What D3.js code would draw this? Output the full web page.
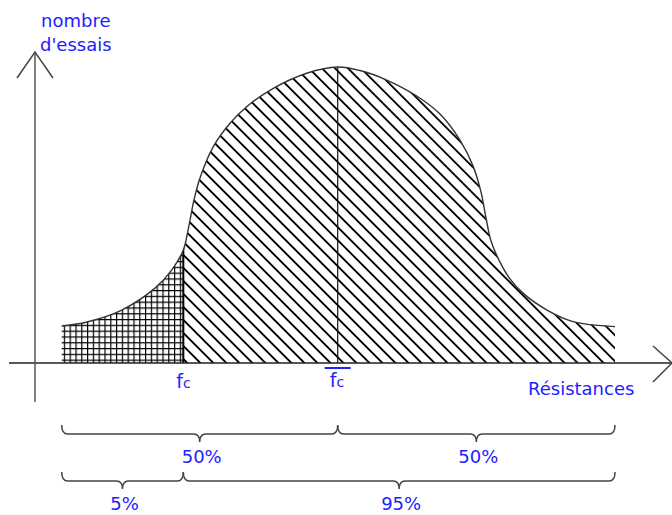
<!DOCTYPE html>
<html>
<head>
<meta charset="utf-8">
<script src="https://cdn.jsdelivr.net/npm/d3@7"></script>
<style>
  body { margin: 0; background: #fff; }
  text { font-family: "Comic Sans MS", "DejaVu Sans", sans-serif; fill: #2121ff; }
</style>
</head>
<body>
<div id="chart"></div>
<script>
// resistance (arbitrary units) and number of trials (relative, peak = 100)
const resistance = [4.45, 8.83, 14.45, 20.0, 22.78, 24.72, 25.55, 26.5, 27.5, 29.72, 32.5, 35.28, 39.72, 45.28, 50.45,
                    54.17, 58.62, 63.62, 67.5, 70.83, 73.0, 74.33, 75.17, 76.0, 77.5, 79.17, 81.33, 85.33, 89.67, 96.67];
const counts = [12.5, 13.95, 17.9, 25.3, 31.4, 38.2, 45.3, 55.1, 62.5, 73.1, 81.0, 86.6, 92.8, 97.9, 100,
                98.8, 95.6, 90.2, 84.1, 75.3, 66.6, 57.8, 49.0, 41.2, 34.1, 28.4, 23.6, 17.9, 14.0, 12.3];

const fc = 24.72;      // characteristic resistance (5 % fractile)
const fcMean = 50.45;  // mean resistance

const braceFrom = [4.45, 50.45, 4.45, 24.72];
const braceTo = [50.45, 96.67, 24.72, 96.67];
const braceRow = [0, 0, 1, 1];
const braceLabels = ["50%", "50%", "5%", "95%"];

const width = 672;
const height = 515;

const svg = d3.select("#chart")
    .append("svg")
    .attr("width", width)
    .attr("height", height);

const xScale = d3.scaleLinear().domain([0, 100]).range([35, 635]);
const yScale = d3.scaleLinear().domain([0, 100]).range([363, 67]);

const defs = svg.append("defs");

// diagonal hatching
const hatch = defs.append("pattern")
    .attr("id", "hatch")
    .attr("patternUnits", "userSpaceOnUse")
    .attr("width", 9.2)
    .attr("height", 9.2)
    .attr("patternTransform", "rotate(-45)");
hatch.append("line")
    .attr("x1", 4.6).attr("y1", -1)
    .attr("x2", 4.6).attr("y2", 10.2)
    .attr("stroke", "#000")
    .attr("stroke-width", 1.8);

// square grid
const grid = defs.append("pattern")
    .attr("id", "grid")
    .attr("patternUnits", "userSpaceOnUse")
    .attr("width", 5.8)
    .attr("height", 5.8);
grid.append("path")
    .attr("d", "M0,0.6 H5.8 M0.6,0 V5.8")
    .attr("stroke", "#000")
    .attr("stroke-width", 1.2)
    .attr("fill", "none");

const points = resistance.map((r, i) => ({ r: r, c: counts[i] }));

const area = d3.area()
    .x(d => xScale(d.r))
    .y0(yScale(0))
    .y1(d => yScale(d.c))
    .curve(d3.curveCatmullRom.alpha(0.5));

const line = d3.line()
    .x(d => xScale(d.r))
    .y(d => yScale(d.c))
    .curve(d3.curveCatmullRom.alpha(0.5));

defs.append("clipPath").attr("id", "clip-left")
    .append("rect")
    .attr("x", 0).attr("y", 0)
    .attr("width", xScale(fc)).attr("height", height);

defs.append("clipPath").attr("id", "clip-right")
    .append("rect")
    .attr("x", xScale(fc)).attr("y", 0)
    .attr("width", width - xScale(fc)).attr("height", height);

defs.append("clipPath").attr("id", "clip-area")
    .append("path")
    .attr("d", area(points));

svg.append("path")
    .attr("d", area(points))
    .attr("fill", "url(#grid)")
    .attr("clip-path", "url(#clip-left)");

svg.append("path")
    .attr("d", area(points))
    .attr("fill", "url(#hatch)")
    .attr("clip-path", "url(#clip-right)");

// vertical lines at fc and mean, cut by the curve
const vlines = svg.append("g").attr("clip-path", "url(#clip-area)");
vlines.append("line")
    .attr("x1", xScale(fc)).attr("x2", xScale(fc))
    .attr("y1", yScale(0)).attr("y2", 0)
    .attr("stroke", "#000")
    .attr("stroke-width", 2);
vlines.append("line")
    .attr("x1", xScale(fcMean)).attr("x2", xScale(fcMean))
    .attr("y1", yScale(0)).attr("y2", 0)
    .attr("stroke", "#111")
    .attr("stroke-width", 1.2);

svg.append("path")
    .attr("d", line(points))
    .attr("fill", "none")
    .attr("stroke", "#333")
    .attr("stroke-width", 1.4);

// axes
const axisColor = "#444";
svg.append("line")
    .attr("x1", 9).attr("y1", yScale(0))
    .attr("x2", 672).attr("y2", yScale(0))
    .attr("stroke", "#222").attr("stroke-width", 1.5);
svg.append("path")
    .attr("d", "M653,346 L672,363 L653,382")
    .attr("fill", "none").attr("stroke", axisColor).attr("stroke-width", 1.5);

svg.append("line")
    .attr("x1", 35).attr("y1", 402)
    .attr("x2", 35).attr("y2", 52)
    .attr("stroke", "#555").attr("stroke-width", 1.5);
svg.append("path")
    .attr("d", "M17,78 L35,52 L53,78")
    .attr("fill", "none").attr("stroke", axisColor).attr("stroke-width", 1.5);

// axis titles
svg.append("text").attr("x", 41).attr("y", 27).attr("font-size", 18).text("nombre");
svg.append("text").attr("x", 40).attr("y", 51).attr("font-size", 18).text("d'essais");
svg.append("text").attr("x", 528).attr("y", 395).attr("font-size", 18).text("Résistances");

// fc labels
const fcLabel = svg.append("text")
    .attr("x", xScale(fc) - 7).attr("y", 388).attr("font-size", 19);
fcLabel.append("tspan").text("f");
fcLabel.append("tspan").attr("font-size", 14).text("c");

const fcMeanLabel = svg.append("text")
    .attr("x", xScale(fcMean) - 8).attr("y", 387).attr("font-size", 19);
fcMeanLabel.append("tspan").text("f");
fcMeanLabel.append("tspan").attr("font-size", 14).text("c");
svg.append("line")
    .attr("x1", xScale(fcMean) - 13).attr("x2", xScale(fcMean) + 13)
    .attr("y1", 368).attr("y2", 368)
    .attr("stroke", "#2121ff").attr("stroke-width", 2);

// braces
const rowTop = [425, 472];
function bracePath(x1, x2, top) {
    const h = top + 9;
    const tip = top + 17;
    const mid = (x1 + x2) / 2;
    const r = 6;
    return `M${x1},${top} Q${x1},${h} ${x1 + r},${h} L${mid - r},${h} Q${mid},${h} ${mid},${tip}` +
        ` Q${mid},${h} ${mid + r},${h} L${x2 - r},${h} Q${x2},${h} ${x2},${top}`;
}

svg.selectAll(".brace")
    .data(braceFrom)
    .enter()
    .append("path")
    .attr("class", "brace")
    .attr("d", (d, i) => bracePath(xScale(d), xScale(braceTo[i]), rowTop[braceRow[i]]))
    .attr("fill", "none")
    .attr("stroke", "#444")
    .attr("stroke-width", 1.5);

svg.selectAll(".brace-label")
    .data(braceLabels)
    .enter()
    .append("text")
    .attr("class", "brace-label")
    .attr("x", (d, i) => (xScale(braceFrom[i]) + xScale(braceTo[i])) / 2 + 2)
    .attr("y", (d, i) => rowTop[braceRow[i]] + 38)
    .attr("text-anchor", "middle")
    .attr("font-size", 18)
    .text(d => d);
</script>
</body>
</html>
